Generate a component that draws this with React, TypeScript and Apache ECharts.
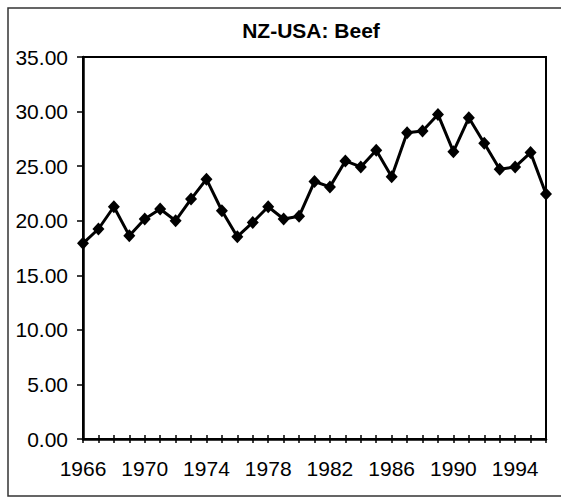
import React, { useEffect, useRef } from "react";
import * as echarts from "echarts";

const years: string[] = [
  "1966", "1967", "1968", "1969", "1970", "1971", "1972", "1973", "1974", "1975",
  "1976", "1977", "1978", "1979", "1980", "1981", "1982", "1983", "1984", "1985",
  "1986", "1987", "1988", "1989", "1990", "1991", "1992", "1993", "1994", "1995", "1996",
];

const beef: number[] = [
  17.93, 19.24, 21.28, 18.63, 20.16, 21.07, 20.0, 21.98, 23.81, 20.91,
  18.54, 19.84, 21.28, 20.16, 20.4, 23.59, 23.1, 25.48, 24.93, 26.46,
  24.02, 28.06, 28.22, 29.74, 26.33, 29.43, 27.1, 24.72, 24.93, 26.24, 22.44,
];

const FONT = "'Liberation Sans', Arial, sans-serif";

export default function App() {
  const ref = useRef<HTMLDivElement>(null);
  useEffect(() => {
    if (!ref.current) return;
    const chart = echarts.init(ref.current, undefined, { renderer: "svg" });
    chart.setOption({
      animation: false,
      backgroundColor: "#ffffff",
      title: {
        text: "NZ-USA: Beef",
        left: 306,
        top: 15,
        textAlign: "center",
        textStyle: { fontFamily: FONT, fontSize: 21, fontWeight: "bold", color: "#000" },
      },
      graphic: [
        {
          type: "rect",
          shape: { x: 8, y: 8, width: 560, height: 488 },
          style: { fill: "none", stroke: "#333", lineWidth: 1.5 },
          silent: true,
        },
      ],
      grid: {
        left: 83,
        right: 15,
        top: 57,
        bottom: 58,
        show: true,
        borderColor: "#000",
        borderWidth: 2,
        backgroundColor: "transparent",
      },
      xAxis: [
        {
          type: "category",
          position: "bottom",
          data: years,
          boundaryGap: false,
          axisLine: { lineStyle: { color: "#000", width: 2.5 } },
          axisTick: { show: true, interval: 0, length: 4, lineStyle: { color: "#000", width: 1.5 } },
          axisLabel: {
            interval: 3,
            margin: 19,
            fontFamily: FONT,
            fontSize: 21,
            color: "#000",
          },
          splitLine: { show: false },
        },
        {
          type: "category",
          position: "bottom",
          data: years,
          boundaryGap: false,
          axisLine: { show: false },
          axisTick: { show: true, inside: true, interval: 0, length: 4, lineStyle: { color: "#000", width: 1.5 } },
          axisLabel: { show: false },
          splitLine: { show: false },
        },
      ],
      yAxis: {
        type: "value",
        min: 0,
        max: 35,
        interval: 5,
        axisLine: { show: true, lineStyle: { color: "#000", width: 2.5 } },
        axisTick: { show: true, length: 6, lineStyle: { color: "#000", width: 1.5 } },
        axisLabel: {
          margin: 15,
          fontFamily: FONT,
          fontSize: 21,
          color: "#000",
          formatter: (v: number) => v.toFixed(2),
        },
        splitLine: { show: false },
      },
      series: [
        {
          type: "line",
          xAxisIndex: 0,
          data: beef,
          symbol: "diamond",
          symbolSize: [12, 13],
          showAllSymbol: true,
          lineStyle: { color: "#000", width: 3 },
          itemStyle: { color: "#000" },
        },
      ],
    });
    return () => chart.dispose();
  }, []);
  return (
    <div
      ref={ref}
      style={{ position: "fixed", left: 0, top: 0, width: 561, height: 497 }}
    />
  );
}
